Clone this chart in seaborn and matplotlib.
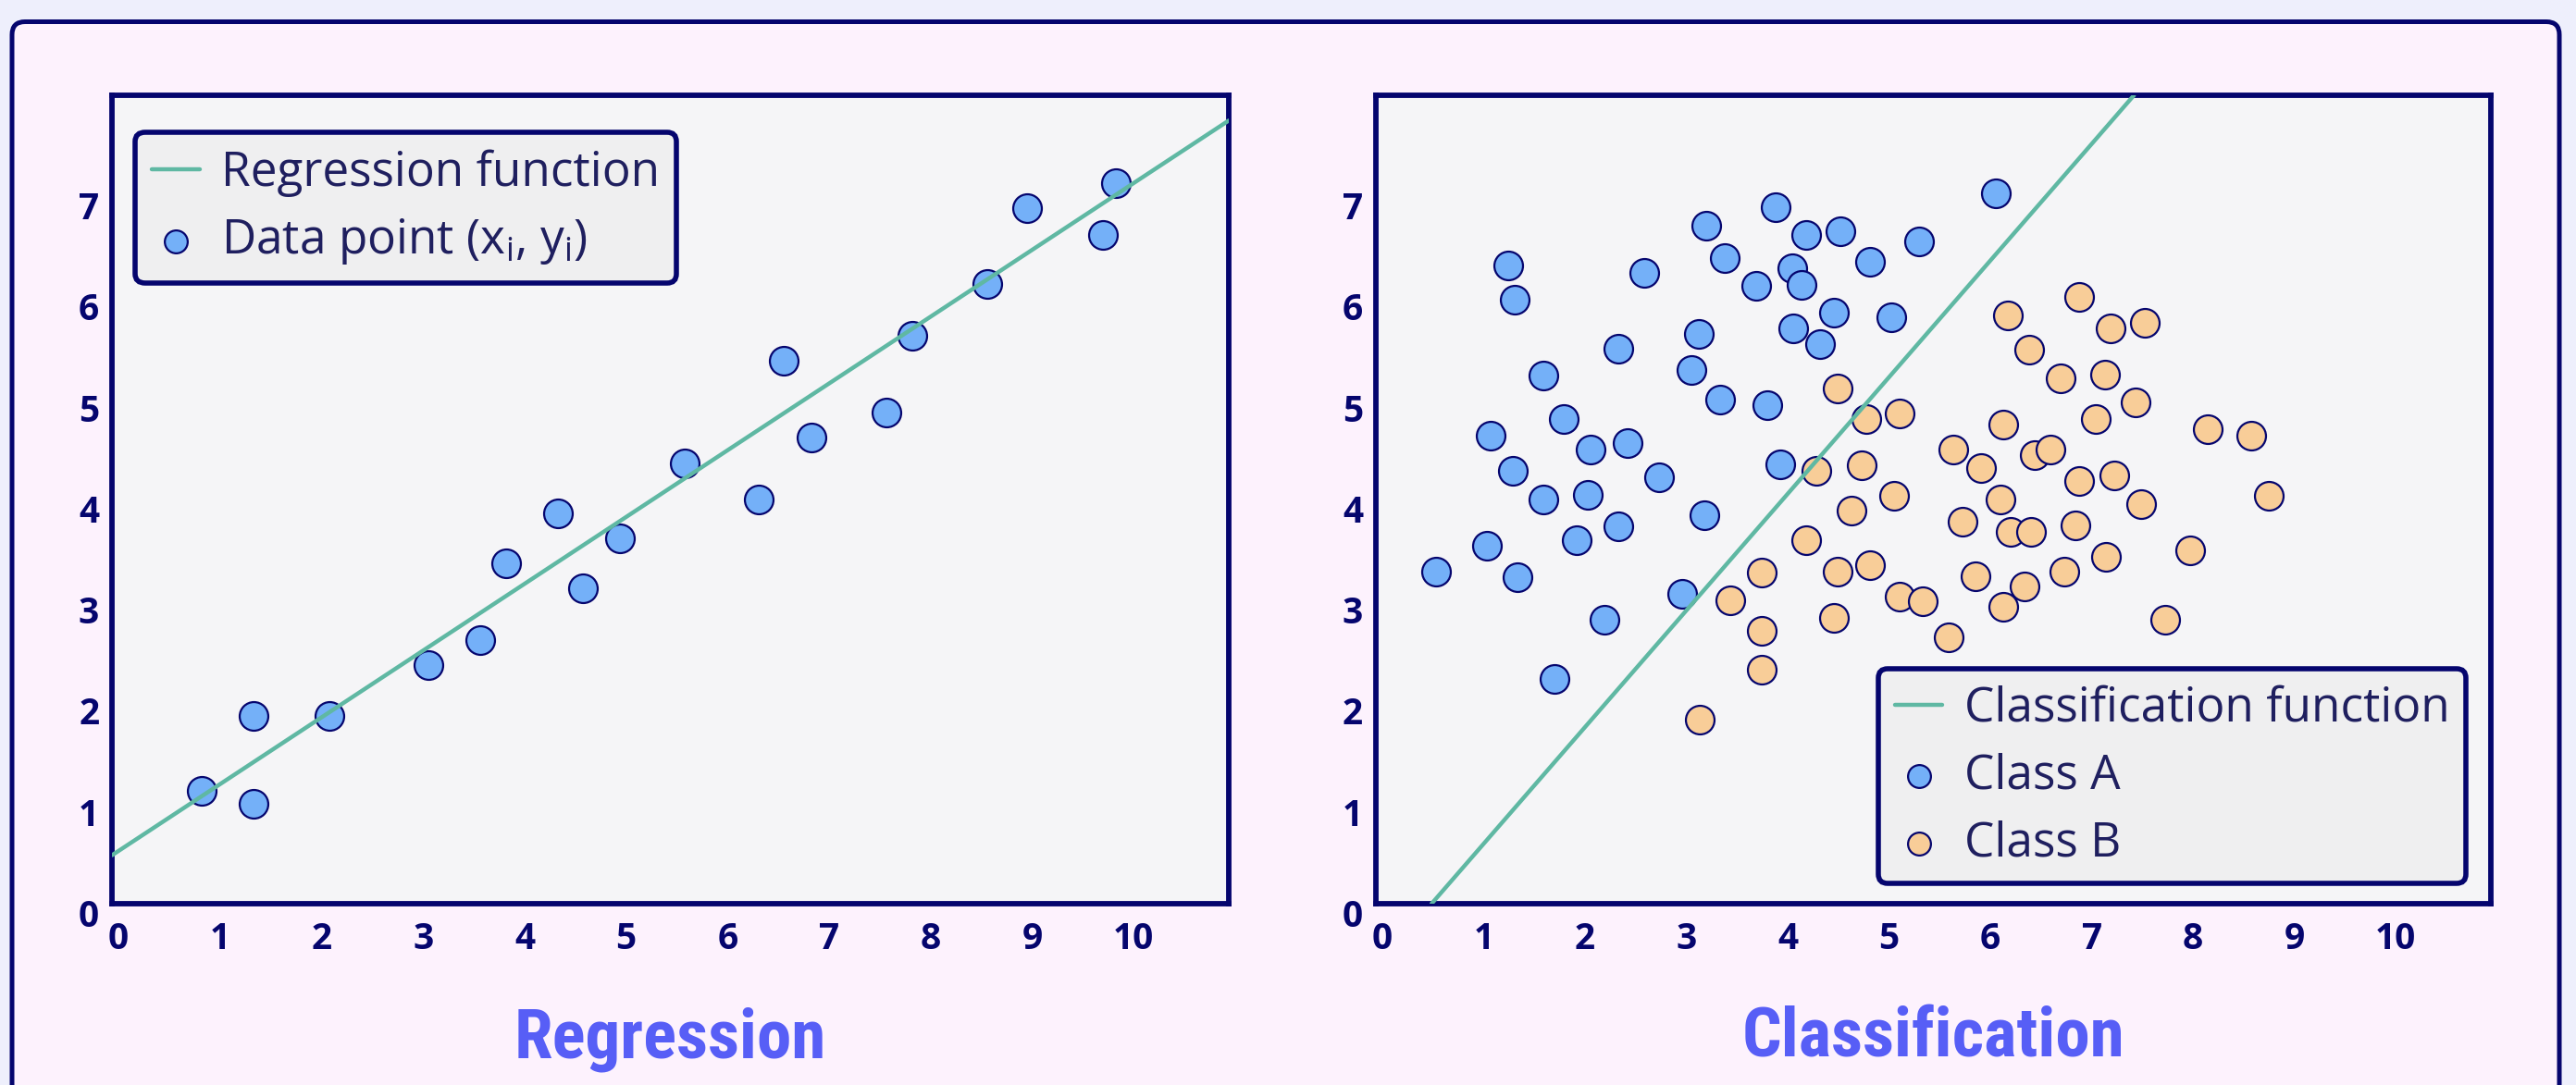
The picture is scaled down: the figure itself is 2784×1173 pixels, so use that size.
import matplotlib
matplotlib.use("Agg")
import matplotlib.pyplot as plt
import matplotlib.transforms as mtransforms
from matplotlib.patches import FancyBboxPatch
import seaborn as sns

# regression data
reg_x = [0.88, 1.39, 1.39, 2.14, 3.12, 3.63, 3.88, 4.39, 4.64, 5.00,
         5.64, 6.37, 6.62, 6.89, 7.63, 7.88, 8.62, 9.01, 9.76, 9.89]
reg_y = [1.12, 1.86, 0.99, 1.86, 2.36, 2.61, 3.37, 3.86, 3.12, 3.62,
         4.36, 4.00, 5.37, 4.61, 4.86, 5.62, 6.13, 6.88, 6.62, 7.13]
reg_line_x = [0, 11]
reg_line_y = [0.48, 7.75]

# classification data
a_x = [0.59, 1.10, 1.13, 1.31, 1.37, 1.35, 1.40, 1.65, 1.65, 1.76,
       1.85, 1.98, 2.09, 2.12, 2.26, 2.39, 2.39, 2.48, 2.65, 2.79,
       3.02, 3.11, 3.19, 3.24, 3.26, 3.40, 3.44, 3.75, 3.86, 3.94,
       3.99, 4.11, 4.12, 4.20, 4.25, 4.38, 4.52, 4.58, 4.88, 5.09,
       5.36, 6.12]
a_y = [3.29, 3.54, 4.63, 6.32, 5.98, 4.28, 3.23, 5.23, 4.00, 2.22,
       4.80, 3.60, 4.05, 4.49, 2.81, 5.49, 3.73, 4.56, 6.24, 4.22,
       3.07, 5.28, 5.64, 3.84, 6.71, 4.99, 6.39, 6.11, 4.93, 6.89,
       4.35, 6.29, 5.69, 6.12, 6.62, 5.54, 5.85, 6.65, 6.35, 5.80,
       6.55, 7.03]
b_x = [3.20, 3.50, 3.81, 3.81, 3.81, 4.25, 4.35, 4.52, 4.56, 4.56,
       4.69, 4.79, 4.84, 4.88, 5.11, 5.17, 5.17, 5.40, 5.65, 5.70,
       5.79, 5.92, 5.97, 6.16, 6.19, 6.19, 6.24, 6.26, 6.40, 6.45,
       6.46, 6.50, 6.66, 6.76, 6.79, 6.90, 6.94, 6.94, 7.10, 7.19,
       7.20, 7.25, 7.29, 7.50, 7.55, 7.59, 7.79, 8.03, 8.21, 8.64,
       8.81]
b_y = [1.82, 3.00, 3.28, 2.70, 2.32, 3.60, 4.28, 2.83, 5.10, 3.29,
       3.89, 4.34, 4.80, 3.35, 4.04, 4.85, 3.04, 2.99, 2.64, 4.49,
       3.78, 3.24, 4.31, 4.00, 4.74, 2.94, 5.82, 3.68, 3.14, 5.48,
       3.68, 4.44, 4.49, 5.20, 3.29, 3.74, 4.18, 6.00, 4.80, 5.24,
       3.43, 5.69, 4.24, 4.96, 3.95, 5.75, 2.81, 3.50, 4.70, 4.63,
       4.04]
cls_line_x = [0.55, 7.48]
cls_line_y = [0, 8]

x_ticks = list(range(0, 11))
y_ticks = list(range(0, 8))

NAVY = "#05056e"
TEAL = "#5fb8a3"
BLUE = "#74b0f8"
ORANGE = "#f8cd98"
TITLE = "#575ef6"
TEXT = "#1f1f5f"

sns.set_theme(style="white")
plt.rcParams["font.family"] = ["Open Sans", "DejaVu Sans"]

fig = plt.figure(figsize=(13.92, 5.865), dpi=200, facecolor="#eeeffc")

# outer rounded panel
panel = FancyBboxPatch((0.065, -0.5), 13.765, 6.2475,
                       boxstyle="round,pad=0,rounding_size=0.07",
                       transform=fig.dpi_scale_trans, facecolor="#fdf2fd",
                       edgecolor=NAVY, linewidth=1.8, zorder=-1)
fig.patches.append(panel)

ax1 = fig.add_axes([0.0435, 0.1671, 0.4335, 0.7451])
ax2 = fig.add_axes([0.5341, 0.1671, 0.4328, 0.7451])


def style_axes(ax):
    ax.set_facecolor("#f5f5f7")
    ax.set_xlim(0, 11)
    ax.set_ylim(0, 8)
    ax.set_xticks(x_ticks)
    ax.set_yticks(y_ticks)
    ax.set_xlabel("")
    ax.set_ylabel("")
    for sp in ax.spines.values():
        sp.set_color(NAVY)
        sp.set_linewidth(2.1)
        sp.set_visible(True)
    ax.tick_params(axis="both", length=0, labelsize=14, labelcolor=NAVY)
    ax.tick_params(axis="x", pad=7)
    ax.tick_params(axis="y", pad=5)
    dx = mtransforms.ScaledTranslation(0.035, 0, fig.dpi_scale_trans)
    dy = mtransforms.ScaledTranslation(0, -0.05, fig.dpi_scale_trans)
    for lab in ax.get_xticklabels():
        lab.set_fontweight("bold")
        lab.set_transform(lab.get_transform() + dx)
    for lab in ax.get_yticklabels():
        lab.set_fontweight("bold")
        lab.set_transform(lab.get_transform() + dy)


def style_legend(leg):
    fr = leg.get_frame()
    fr.set_edgecolor(NAVY)
    fr.set_linewidth(2.0)
    fr.set_facecolor("#efeff0")
    fr.set_alpha(1)
    for t in leg.get_texts():
        t.set_color(TEXT)


scatter_kw = dict(s=124, edgecolor=NAVY, linewidth=0.8, zorder=2)
leg_kw = dict(fontsize=18.5, handlelength=1.0, handletextpad=0.45,
              markerscale=0.8, borderaxespad=0, frameon=True, fancybox=True,
              labelspacing=0.42, borderpad=0.35)

# regression panel
sns.lineplot(x=reg_line_x, y=reg_line_y, ax=ax1, color=TEAL, linewidth=1.6,
             label="Regression function", zorder=3)
sns.scatterplot(x=reg_x, y=reg_y, ax=ax1, color=BLUE,
                label=r"Data point ($\mathregular{x_i}$, $\mathregular{y_i}$)",
                **scatter_kw)
style_axes(ax1)
leg1 = ax1.legend(loc="upper left", bbox_to_anchor=(0.021, 0.954), **leg_kw)
style_legend(leg1)

# classification panel
sns.lineplot(x=cls_line_x, y=cls_line_y, ax=ax2, color=TEAL, linewidth=1.6,
             label="Classification function", zorder=3)
sns.scatterplot(x=a_x, y=a_y, ax=ax2, color=BLUE, label="Class A", **scatter_kw)
sns.scatterplot(x=b_x, y=b_y, ax=ax2, color=ORANGE, label="Class B", **scatter_kw)
style_axes(ax2)
leg2 = ax2.legend(loc="lower right", bbox_to_anchor=(0.978, 0.025), **leg_kw)
style_legend(leg2)

title_font = ["Roboto Condensed", "DejaVu Sans"]
fig.text(0.260, 0.0256, "Regression", ha="center", va="baseline",
         fontsize=27, fontweight="bold", fontstretch="condensed",
         color=TITLE, family=title_font)
fig.text(0.7505, 0.0256, "Classification", ha="center", va="baseline",
         fontsize=27, fontweight="bold", fontstretch="condensed",
         color=TITLE, family=title_font)

fig.savefig("out.png", dpi=200, facecolor=fig.get_facecolor())
